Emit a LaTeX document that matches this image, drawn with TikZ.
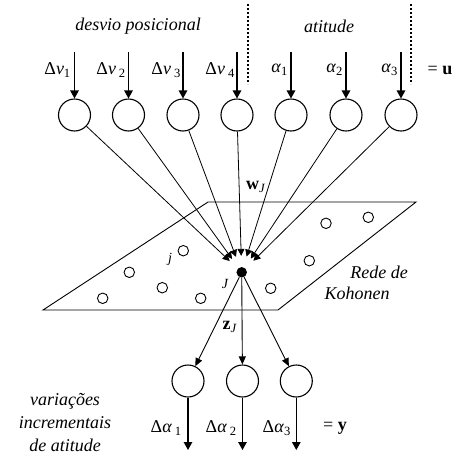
\documentclass[tikz,border=0pt]{standalone}
\usepackage{fontspec}
\setmainfont{Liberation Serif}
\usetikzlibrary{arrows.meta}
\begin{document}
\begin{tikzpicture}[x=1pt,y=-1pt,
  neuron/.style={circle,draw,line width=1.1pt,minimum size=32pt,inner sep=0pt},
  unit/.style={circle,draw,line width=0.9pt,minimum size=10.5pt,inner sep=0pt},
  inarrow/.style={line width=1.3pt,-{Triangle[length=8pt,width=8.5pt]}},
  warrow/.style={line width=0.8pt,-{Triangle[length=7pt,width=7pt]},shorten >=11pt},
  zarrow/.style={line width=0.9pt,-{Triangle[length=8pt,width=7pt]}},
  dotline/.style={line width=1.8pt,dash pattern=on 1.8pt off 2.2pt},
  lbl/.style={font=\fontsize{18}{22}\selectfont,inner sep=0pt},
  ital/.style={font=\fontsize{18}{23}\selectfont\itshape,inner sep=0pt,align=center},
]
\useasboundingbox (0,0) rectangle (459,456);

% input neurons
\foreach \x [count=\i] in {74.5,128.5,183,237,291,346,401}{
  \node[neuron] (i\i) at (\x,115) {};
  \coordinate (a\i) at (\x,52);
  \draw[inarrow] (a\i) -- (i\i);
}

% group labels
\node[ital] (dp) at (138,26) {desvio posicional};
\node[ital] (at) at (329,26) {atitude};
\coordinate (d1a) at (248,4); \coordinate (d1b) at (248,84);
\coordinate (d2a) at (411,4); \coordinate (d2b) at (411,84);
\draw[dotline] (d1a) -- (d1b);
\draw[dotline] (d2a) -- (d2b);

% input labels
\node[lbl,anchor=east] (l1) at (71,70) {Δ\textit{v}\textsubscript{1}};
\node[lbl,anchor=east] (l2) at (126,70) {Δ\textit{v}\,\textsubscript{2}};
\node[lbl,anchor=east] (l3) at (181,70) {Δ\textit{v}\,\textsubscript{3}};
\node[lbl,anchor=east] (l4) at (235,70) {Δ\textit{v}\,\textsubscript{4}};
\node[lbl,anchor=east] (l5) at (288,70) {\textit{α}\textsubscript{1}};
\node[lbl,anchor=east] (l6) at (343,70) {\textit{α}\textsubscript{2}};
\node[lbl,anchor=east] (l7) at (398,70) {\textit{α}\textsubscript{3}};
\node[lbl] (u) at (440,70) {= \textbf{u}};

% Kohonen plane
\draw[line width=0.9pt] (43,310) -- (278,310) -- (416,202) -- (208,202) -- cycle;
\foreach \p [count=\k] in {(183.3,250.7),(129.3,272.3),(162.3,287.7),(102.7,298.3),(200.7,298.3),(270.7,288.3),(309.3,260.7),(326,223.3),(368.3,217.3)}{
  \node[unit] (k\k) at \p {};
}
\node[circle,fill=black,minimum size=10.5pt,inner sep=0pt] (J) at (241.7,272.3) {};
\node[lbl,font=\fontsize{14}{16}\selectfont\itshape] (jl) at (170,259) {j};
\node[lbl,font=\fontsize{14}{16}\selectfont\itshape] (Jl) at (225,284) {J};
\node[ital,align=left] (r1) at (379,272) {Rede de};
\node[ital,align=left] (r2) at (357,293) {Kohonen};

% weights
\foreach \i in {1,...,7}{
  \draw[warrow] (i\i) -- (J);
}
\node[lbl] (wj) at (256,187) {\textbf{w}\textsubscript{\textit{J}}};

% output neurons
\foreach \x [count=\i] in {188,242.5,296.3}{
  \node[neuron] (o\i) at (\x,381) {};
  \coordinate (b\i) at (\x,450);
  \draw[zarrow] (J) -- (o\i);
  \draw[inarrow] (o\i) -- (b\i);
}
\node[lbl] (zj) at (230,327) {\textbf{z}\textsubscript{\textit{J}}};

\node[lbl,anchor=east] (m1) at (182,428) {Δ\textit{α}\,\textsubscript{1}};
\node[lbl,anchor=east] (m2) at (237,428) {Δ\textit{α}\,\textsubscript{2}};
\node[lbl,anchor=east] (m3) at (291,428) {Δ\textit{α}\textsubscript{3}};
\node[lbl] (y) at (335,428) {= \textbf{y}};

\node[ital] (var) at (65,423) {variações\\incrementais\\de atitude};
\end{tikzpicture}
\end{document}
